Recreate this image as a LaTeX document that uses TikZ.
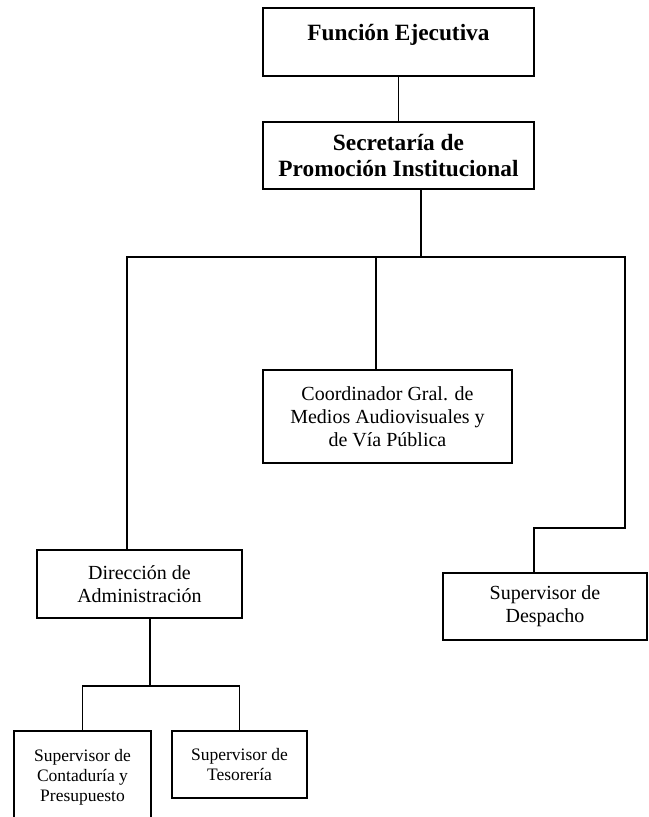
\documentclass[tikz,border=0pt]{standalone}
\usepackage{fontspec}
\setmainfont{Liberation Serif}
\usetikzlibrary{positioning,calc}

\tikzset{
  orgbox/.style={draw,line width=1pt,align=center,inner sep=2pt},
  headbox/.style={orgbox,font=\fontsize{14}{16}\selectfont\bfseries},
  unitbox/.style={orgbox,font=\fontsize{12}{13.8}\selectfont},
  subbox/.style={orgbox,font=\fontsize{10.5}{12}\selectfont},
  link/.style={line width=1pt,line cap=rect}
}

\begin{document}
\begin{tikzpicture}[x=0.6pt,y=-0.6pt]
  \useasboundingbox (0,0) rectangle (648,817);
  \clip (0,0) rectangle (648,817);
  % top of the chart
  \node[headbox,minimum width=162.6pt,minimum height=40.8pt,text height=10pt,text depth=11.8pt] (fe) at (398.5,42) {Función Ejecutiva};
  \node[headbox,minimum width=162.6pt,minimum height=40.2pt] (spi) at (398.5,155.5) {Secretaría de\\Promoción Institucional};
  % second level
  \node[unitbox,minimum width=149.4pt,minimum height=55.8pt] (cgm) at (387.5,416.5) {Coordinador Gral. de\\Medios Audiovisuales y\\de Vía Pública};
  \node[unitbox,minimum width=123pt,minimum height=40.8pt] (dad) at (139.5,584) {Dirección de\\Administración};
  \node[unitbox,minimum width=122.4pt,minimum height=40.2pt] (sdp) at (545,606.5) {Supervisor de\\Despacho};
  % under administration
  \node[subbox,minimum width=82.2pt,minimum height=55.8pt] (scp) at (82.5,777.5) {Supervisor de\\Contaduría y\\Presupuesto};
  \node[subbox,minimum width=81pt,minimum height=40.2pt] (ste) at (239.5,764.5) {Supervisor de\\Tesorería};

  % connectors
  \coordinate (bus) at (421,257);
  \coordinate (busL) at (127,257);
  \coordinate (busM) at (376,257);
  \coordinate (busR) at (625,257);
  \coordinate (bend) at (534,528);
  \coordinate (sub) at (150,686);
  \draw[link] (fe) -- (spi);
  \draw[link] (spi.south -| bus) -- (bus);
  \draw[link] (busL) -- (busR);
  \draw[link] (busM) -- (cgm.north -| busM);
  \draw[link] (busL) -- (dad.north -| busL);
  \draw[link] (busR) |- (bend) -- (sdp.north -| bend);
  \draw[link] (dad.south -| sub) -- (sub);
  \draw[link] (scp.north) |- (ste.north |- sub) -- (ste.north);
\end{tikzpicture}
\end{document}
